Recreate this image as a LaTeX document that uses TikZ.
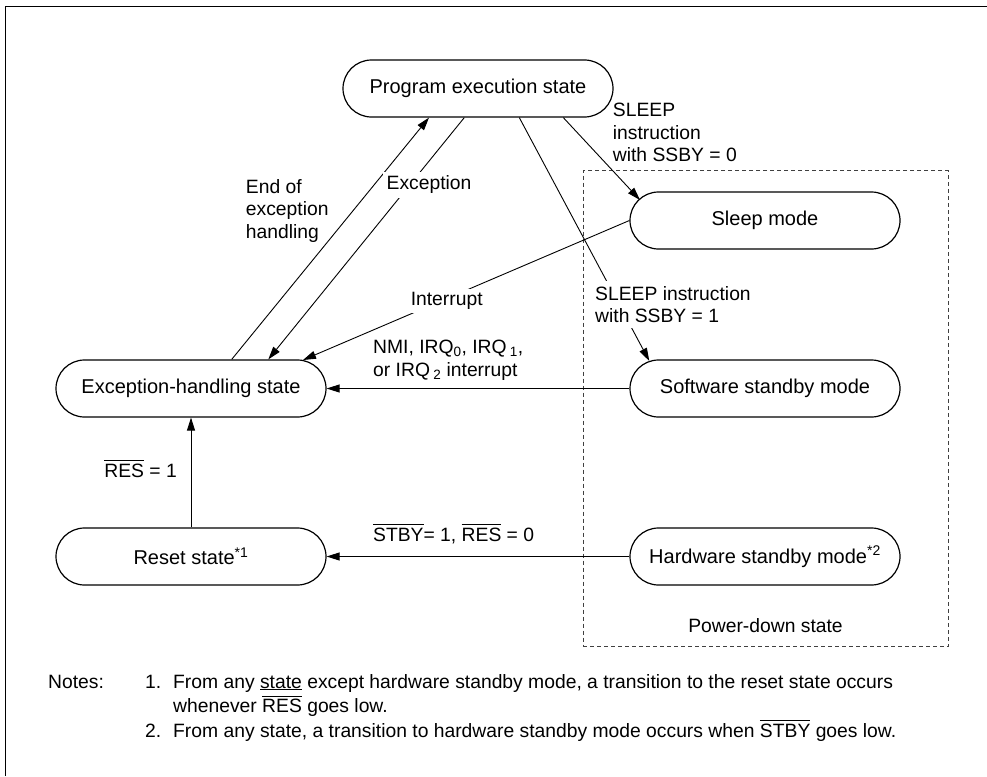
\documentclass[tikz,border=0pt]{standalone}
\usepackage{fontspec}
\setmainfont{Liberation Sans}
\usetikzlibrary{arrows.meta,calc}
\newcommand{\ovl}[1]{\vbox{\hrule height 0.9pt\kern 2.5pt\hbox{#1}}}
\begin{document}
\begin{tikzpicture}[x=1pt,y=-1pt,
  state/.style={draw, line width=1.2pt, rounded corners=28.5pt, minimum width=270pt,
    minimum height=57pt, inner sep=0pt, font=\fontsize{20}{24}\selectfont},
  conn/.style={line width=0.9pt, -{Triangle[length=13pt,width=8pt]}},
  lbl/.style={font=\fontsize{19.3}{22.5}\selectfont, inner sep=0pt, align=left},
  notelbl/.style={font=\fontsize{19.3}{24.5}\selectfont, inner sep=0pt, align=left},
  region/.style={draw, dash pattern=on 4pt off 3pt, line width=0.8pt, black!75,
    minimum width=365pt, minimum height=476pt, inner sep=0pt},
]
\useasboundingbox (0,0) rectangle (987,776);
% outer frame (left and top edges only visible)
\draw[line width=1.8pt] (5.5,776) -- (5.5,6.5) -- (987,6.5);

% power-down region
\node[region] (pd) at (765.5,408.7) {};
\node[lbl, anchor=base] (lpd) at (765.5,632) {Power-down state};

% states
\node[state] (prog)  at (478,88.5)  {Program execution state};
\node[state] (sleep) at (765,220.5) {Sleep mode};
\node[state] (exc)   at (191,388.5) {Exception-handling state};
\node[state] (sw)    at (765,388.5) {Software standby mode};
\node[state] (reset) at (191,556.5) {Reset state\textsuperscript{*1}};
\node[state] (hw)    at (765,556.5) {Hardware standby mode\textsuperscript{*2}};

% connectors
\draw[conn] ($(exc.north)+(40.7,0)$) -- ($(prog.south)+(-49,0)$);
\draw[conn] ($(prog.south)+(-13.7,0)$) -- ($(exc.north)+(77.3,0)$);
\draw[conn] ($(prog.south)+(85.3,0)$) -- ($(sleep.center)+(-125,-20.5)$);
\draw[conn] ($(prog.south)+(41.3,0)$) -- ($(sw.center)+(-115.7,-27.5)$);
\draw[conn] (sleep.west) -- ($(exc.center)+(112,-28.5)$);
\draw[conn] (sw.west) -- (exc.east);
\draw[conn] (hw.west) -- (reset.east);
\draw[conn] (reset.north) -- (exc.south);

% connector labels
\node[lbl, fill=white, inner sep=4pt] (lexc) at (429,185) {Exception};
\node[lbl, anchor=north west] (lend) at (245.7,179) {End of\\exception\\handling};
\node[lbl, anchor=north west] (lss0) at (612.7,103.2) {SLEEP\\instruction\\with SSBY = 0};
\node[lbl, anchor=north west, fill=white, inner sep=5pt] (lss1) at (590,281) {SLEEP instruction\\with SSBY = 1};
\node[lbl, fill=white, inner sep=3pt] (lint) at (446.7,301) {Interrupt};
\node[lbl, anchor=north west] (lnmi) at (373,340.2) {NMI, IRQ\textsubscript{0}, IRQ\,\textsubscript{1},\\or IRQ\,\textsubscript{2} interrupt};
\node[lbl, anchor=base east] (lres) at (177,477) {\ovl{RES} = 1};
\node[lbl, anchor=base west] (lstby) at (373,541) {\ovl{STBY}= 1, \ovl{RES} = 0};

% notes
\node[notelbl, anchor=base west] (nt) at (48,688) {Notes:};
\node[notelbl, anchor=base west] (n1) at (145,688) {1.};
\node[notelbl, anchor=north west] (t1) at (173,673.9) {From any \underline{state} except hardware standby mode, a transition to the reset state occurs\\whenever \ovl{RES} goes low.};
\node[notelbl, anchor=base west] (n2) at (145,737) {2.};
\node[notelbl, anchor=base west] (t2) at (173,737) {From any state, a transition to hardware standby mode occurs when \ovl{STBY} goes low.};
\end{tikzpicture}
\end{document}
